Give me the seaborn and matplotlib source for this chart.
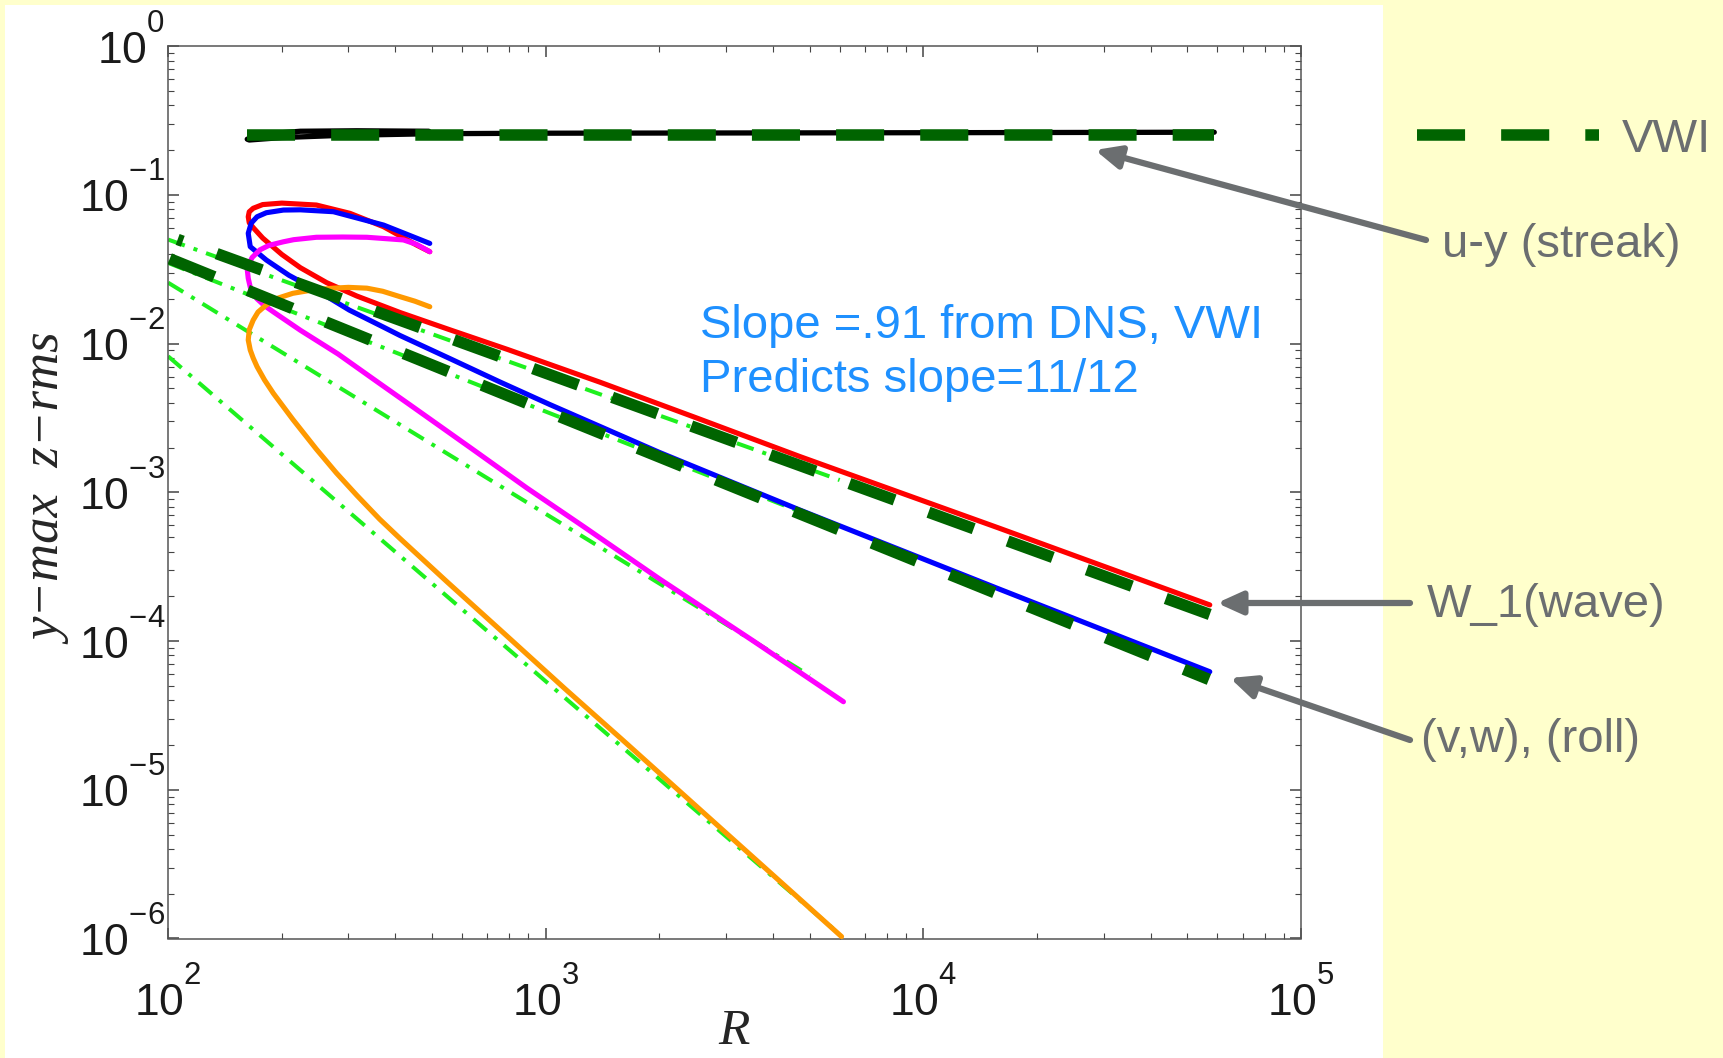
import matplotlib
matplotlib.use("Agg")
import matplotlib.pyplot as plt
import seaborn as sns
from matplotlib.patches import Rectangle, FancyArrowPatch
from matplotlib.lines import Line2D
from matplotlib.transforms import ScaledTranslation
from matplotlib.ticker import FixedLocator, FixedFormatter, LogLocator, NullFormatter

# ---------------------------------------------------------------- data
# Streak amplitude (u-y), traced from the upper branch end through the fold
streak_R = [490, 316, 224, 182, 162, 164, 200, 282, 501, 1000, 3162, 10000, 58900]
streak_Y = [0.268, 0.270, 0.268, 0.257, 0.237, 0.234, 0.243, 0.251, 0.258, 0.260,
            0.261, 0.262, 0.264]

# Wave amplitude W_1 (red)
wave_R = [493, 455, 372, 303, 247, 200, 178, 168, 164, 163, 164, 168, 178, 200, 224,
          263, 316, 411, 562, 794, 1026, 1393, 2512, 4710, 15850, 57300]
wave_Y = [0.0415, 0.0460, 0.0611, 0.0752, 0.0855, 0.0881, 0.0861, 0.0813, 0.0770,
          0.0713, 0.0650, 0.0603, 0.0513, 0.0398, 0.0324, 0.0257, 0.0209, 0.0162,
          0.0123, 0.00912, 0.00724, 0.00550, 0.00316, 0.00174, 5.75e-4, 1.75e-4]

# Roll amplitude (v,w) (blue)
roll_R = [493, 372, 274, 224, 202, 182, 172, 166, 163, 165, 182, 209, 247, 302, 372,
          411, 557, 759, 1026, 1995, 4710, 15850, 57300]
roll_Y = [0.0472, 0.0627, 0.0771, 0.0794, 0.0791, 0.0759, 0.0713, 0.0646, 0.0552,
          0.0449, 0.0365, 0.0288, 0.0229, 0.0168, 0.0129, 0.01135, 0.00794, 0.0055,
          0.00389, 0.00186, 7.6e-4, 2.24e-4, 6.22e-5]

# Third mode (magenta)
mode3_R = [493, 455, 420, 336, 290, 247, 215, 202, 185, 175, 167, 163, 162, 163, 165,
           168, 172, 180, 191, 224, 282, 355, 447, 631, 891, 1259, 1995, 3548, 6140]
mode3_Y = [0.0415, 0.0465, 0.0498, 0.0519, 0.0521, 0.0519, 0.0500, 0.0484, 0.0458,
           0.0427, 0.0380, 0.0338, 0.0316, 0.0275, 0.0240, 0.0218, 0.0200, 0.0180,
           0.0162, 0.0123, 0.00851, 0.00562, 0.00372, 0.00200, 0.00107, 5.89e-4,
           2.63e-4, 1.0e-4, 3.91e-5]

# Fourth mode (orange)
mode4_R = [493, 450, 411, 370, 336, 300, 274, 240, 214, 195, 182, 173, 168, 164, 163,
           164, 165, 168, 172, 180, 190, 214, 247, 279, 316, 363, 411, 547, 757, 1122,
           1585, 3162, 6070]
mode4_Y = [0.0177, 0.0193, 0.0207, 0.0225, 0.0236, 0.0239, 0.0236, 0.0229, 0.0218,
           0.0202, 0.0182, 0.0163, 0.0144, 0.0124, 0.01057, 0.0098, 0.00906, 0.0080,
           0.0070, 0.0057, 0.00463, 0.00309, 0.00195, 0.00135, 9.55e-4, 6.61e-4,
           4.90e-4, 2.51e-4, 1.19e-4, 4.8e-5, 2.2e-5, 4.55e-6, 1.03e-6]

# VWI asymptotic predictions (thick dark-green dashes)
vwi_streak_R = [162, 58900]
vwi_streak_Y = [0.253, 0.253]
vwi_wave_R = [106, 57300]
vwi_wave_Y = [0.0502, 1.51e-4]
vwi_roll_R = [101, 57000]
vwi_roll_Y = [0.0372, 5.52e-5]

# Power-law fits to the DNS branches (light-green dash-dot)
fit_wave_R = [100, 6000]
fit_wave_Y = [0.0501, 1.21e-3]
fit_roll_R = [100, 6000]
fit_roll_Y = [0.0349, 5.82e-4]
fit_mode3_R = [100, 5000]
fit_mode3_Y = [0.0257, 5.86e-5]
fit_mode4_R = [100, 5800]
fit_mode4_Y = [0.00822, 1.15e-6]

x_ticks = [1e2, 1e3, 1e4, 1e5]
x_ticklabels = [r"$\mathregular{10^{2}}$", r"$\mathregular{10^{3}}$",
                r"$\mathregular{10^{4}}$", r"$\mathregular{10^{5}}$"]
y_ticks = [1e-6, 1e-5, 1e-4, 1e-3, 1e-2, 1e-1, 1e0]
y_ticklabels = [r"$\mathregular{10^{-6}}$", r"$\mathregular{10^{-5}}$",
                r"$\mathregular{10^{-4}}$", r"$\mathregular{10^{-3}}$",
                r"$\mathregular{10^{-2}}$", r"$\mathregular{10^{-1}}$",
                r"$\mathregular{10^{0}}$"]

# ---------------------------------------------------------------- style
sns.set_style("ticks")
plt.rcParams["font.family"] = ["Liberation Sans", "DejaVu Sans"]
plt.rcParams["mathtext.fontset"] = "custom"
plt.rcParams["mathtext.rm"] = "Liberation Sans"
plt.rcParams["mathtext.it"] = "Liberation Sans:italic"
plt.rcParams["axes.unicode_minus"] = True

# raise exponents so they sit on top of the mantissa
try:
    import matplotlib._mathtext as _mt
    _mt.FontConstantsBase.sup1 = 1.3
except Exception:
    pass

W, H = 1723, 1058
BG = "#FFFFCC"
GRAY = "#6B6E70"
DKGREEN = "#006400"
LIME = "#1EF01E"

fig = plt.figure(figsize=(W / 100, H / 100), dpi=100, facecolor=BG)
fig.add_artist(Rectangle((5 / W, 0), (1383 - 5) / W, (H - 5) / H,
                         transform=fig.transFigure, facecolor="white",
                         edgecolor="none", zorder=-5))

ax_l, ax_r, ax_t, ax_b = 168.1, 1301.1, 46.2, 938.5
ax = fig.add_axes([ax_l / W, 1 - ax_b / H, (ax_r - ax_l) / W, (ax_b - ax_t) / H])
ax.set_facecolor("white")
ax.set_xscale("log")
ax.set_yscale("log")


def draw(R, Y, color, lw, z, dashes=None, offset=0.0, cap="round"):
    sns.lineplot(x=R, y=Y, sort=False, estimator=None, ax=ax, color=color,
                 linewidth=lw, zorder=z)
    ln = ax.lines[-1]
    if dashes is not None:
        ln.set_linestyle((offset, dashes))
        ln.set_dash_capstyle("butt")
    else:
        ln.set_solid_capstyle(cap)
        ln.set_solid_joinstyle("round")
    return ln


# light-green fits underneath everything
dashdot = (4.4, 2.3, 1.0, 2.3)
for R, Y in [(fit_wave_R, fit_wave_Y), (fit_roll_R, fit_roll_Y),
             (fit_mode3_R, fit_mode3_Y), (fit_mode4_R, fit_mode4_Y)]:
    draw(R, Y, LIME, 2.9, 2, dashes=dashdot)

# DNS branches
draw(streak_R, streak_Y, "black", 3.8, 3)
draw(wave_R, wave_Y, "#FF0000", 3.7, 3)
draw(roll_R, roll_Y, "#0000FF", 3.7, 3)
draw(mode3_R, mode3_Y, "#FF00FF", 3.7, 3)
draw(mode4_R, mode4_Y, "#FF9900", 3.7, 3)

# VWI predictions on top
vwi_dash = (4.17, 3.13)
draw(vwi_streak_R, vwi_streak_Y, DKGREEN, 8.3, 4, dashes=vwi_dash)
draw(vwi_wave_R, vwi_wave_Y, DKGREEN, 8.3, 4, dashes=vwi_dash, offset=3.7)
draw(vwi_roll_R, vwi_roll_Y, DKGREEN, 8.3, 4, dashes=vwi_dash)

ax.set_xlim(1e2, 1e5)
ax.set_ylim(1e-6, 1e0)

ax.xaxis.set_major_locator(FixedLocator(x_ticks))
ax.xaxis.set_major_formatter(FixedFormatter(x_ticklabels))
ax.yaxis.set_major_locator(FixedLocator(y_ticks))
ax.yaxis.set_major_formatter(FixedFormatter(y_ticklabels))
ax.xaxis.set_minor_locator(LogLocator(base=10, subs=range(2, 10), numticks=50))
ax.yaxis.set_minor_locator(LogLocator(base=10, subs=range(2, 10), numticks=50))
ax.xaxis.set_minor_formatter(NullFormatter())
ax.yaxis.set_minor_formatter(NullFormatter())

ax.tick_params(which="both", direction="in", top=True, right=True,
               color="#444444", labelcolor="#1a1a1a", labelsize=32)
ax.tick_params(which="major", length=8, width=1.1)
ax.tick_params(which="minor", length=4.3, width=0.8)
ax.tick_params(axis="x", which="major", pad=21)
ax.tick_params(axis="y", which="major", pad=2)
for sp in ax.spines.values():
    sp.set_color("#555555")
    sp.set_linewidth(1.1)

serif = ["Liberation Serif", "DejaVu Serif"]
ax.set_xlabel("R", family=serif, style="italic", fontsize=37, va="baseline")
ax.xaxis.set_label_coords((734 - ax_l) / (ax_r - ax_l), -(1044 - ax_b) / (ax_b - ax_t))
ax.set_ylabel("y\u2212max  z\u2212rms", family=serif, style="italic", fontsize=38,
              va="center", ha="center")
ax.yaxis.set_label_coords((49 - ax_l) / (ax_r - ax_l), 1 - (490 - ax_t) / (ax_b - ax_t))


def fx(px):
    return px / W


def fy(py):
    return 1 - py / H


# slope note
fig.text(fx(700), fy(338), "Slope =.91 from DNS, VWI", color="#1E90FF",
         fontsize=34, va="baseline", ha="left")
fig.text(fx(700), fy(392), "Predicts slope=11/12", color="#1E90FF",
         fontsize=34, va="baseline", ha="left")

# legend entry for VWI
fig.add_artist(Line2D([fx(1417), fx(1599)], [fy(135), fy(135)],
                      transform=fig.transFigure, color=DKGREEN, linewidth=8.3,
                      linestyle=(0, vwi_dash), dash_capstyle="butt"))
fig.text(fx(1622), fy(152), "VWI", color=GRAY, fontsize=34, va="baseline", ha="left")

# callouts
labels = [("u-y (streak)", 1442, 257, (1426, 240), (1095, 150)),
          ("W_1(wave)", 1427, 617, (1410, 603), (1217, 603)),
          ("(v,w), (roll)", 1421, 752, (1410, 740), (1230, 678))]
for text, tx, ty, tail, tip in labels:
    fig.text(fx(tx), fy(ty), text, color=GRAY, fontsize=34, va="baseline", ha="left")
    fig.add_artist(FancyArrowPatch((fx(tail[0]), fy(tail[1])), (fx(tip[0]), fy(tip[1])),
                                   transform=fig.transFigure,
                                   arrowstyle="-|>,head_length=0.75,head_width=0.34",
                                   mutation_scale=20, color=GRAY, linewidth=4.5,
                                   shrinkA=0, shrinkB=0))

# nudge the y tick labels up so the mantissa is centred on its tick
fig.canvas.draw()
lift = ScaledTranslation(0, 7 / 100, fig.dpi_scale_trans)
for tick in ax.yaxis.get_major_ticks():
    tick.label1.set_transform(tick.label1.get_transform() + lift)

fig.savefig("out.png", dpi=100, facecolor=fig.get_facecolor())
